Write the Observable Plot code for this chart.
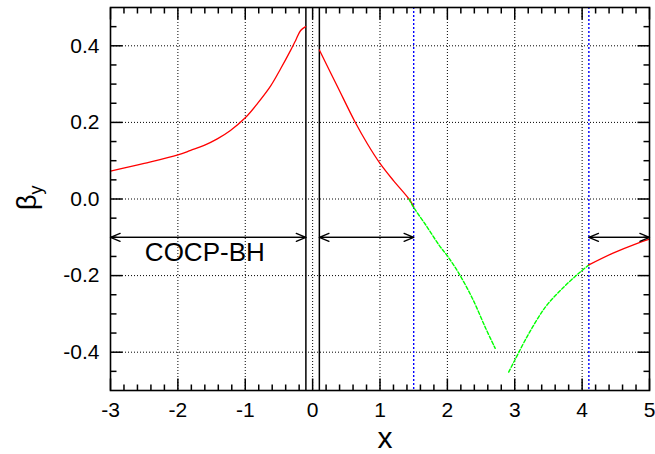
<!DOCTYPE html>
<html><head><meta charset="utf-8">
<script src="https://cdn.jsdelivr.net/npm/d3@7"></script>
<script src="https://cdn.jsdelivr.net/npm/@observablehq/plot@0.6"></script>
<style>body{margin:0;background:#fff;} svg{display:block}</style>
</head><body>
<script>
// ---- data ----
const red1X = [-3.0, -2.5, -2.0, -1.81, -1.61, -1.415, -1.22, -1.0, -0.82, -0.62, -0.475, -0.327, -0.252, -0.178, -0.104];
const red1Y = [0.073, 0.093, 0.115, 0.127, 0.140, 0.157, 0.179, 0.212, 0.249, 0.296, 0.340, 0.388, 0.414, 0.440, 0.450];
const red2X = [0.1, 0.37, 0.63, 0.81, 1.0, 1.2, 1.43, 1.5];
const red2Y = [0.389, 0.293, 0.201, 0.145, 0.093, 0.048, 0.0, -0.02];
const green1X = [1.43, 1.5, 1.68, 1.875, 2.01, 2.17, 2.37, 2.57, 2.71];
const green1Y = [0.0, -0.022, -0.068, -0.12, -0.151, -0.194, -0.259, -0.338, -0.39];
const green2X = [2.91, 3.0, 3.21, 3.46, 3.71, 3.95, 4.1];
const green2Y = [-0.452, -0.421, -0.351, -0.281, -0.233, -0.194, -0.172];
const red3X = [4.1, 4.45, 4.8, 5.0];
const red3Y = [-0.172, -0.142, -0.117, -0.105];

const solidLines = [-0.1, 0.1];        // black vertical lines
const blueLines = [1.5, 4.1];          // blue dotted vertical lines
const arrowFrom = [-3, 0.1, 4.1];
const arrowTo = [-0.1, 1.5, 5];
const arrowLevel = -0.1;
const regionLabel = "COCP-BH";
const regionLabelX = -1.6;
const regionLabelY = -0.14;

const xDomain = [-3, 5];
const yDomain = [-0.5, 0.5];
const xMajor = [-3, -2, -1, 0, 1, 2, 3, 4, 5];
const yMajor = [-0.4, -0.2, 0.0, 0.2, 0.4];
const xGrid = [-2, -1, 0, 1, 2, 3, 4];
const yGrid = [-0.4, -0.2, 0.0, 0.2, 0.4];
const xMinor = d3.range(-30, 51, 2).map(d => d / 10).filter(d => Math.abs(d - Math.round(d)) > 1e-9);
const yMinor = d3.range(-9, 10).map(d => d / 20).filter(d => Math.abs(d * 5 - Math.round(d * 5)) > 1e-9);

const seg = (xs, ys) => xs.map((x, i) => ({x, y: ys[i]}));
const arrows = arrowFrom.map((a, i) => ({a, b: arrowTo[i], y: arrowLevel}));

const font = "Liberation Sans, Arial, Helvetica, sans-serif";
const W = 655, H = 454, mL = 110, mR = 6, mT = 7, mB = 64;
const innerW = W - mL - mR, innerH = H - mT - mB;
// tick lengths (px) expressed in data units
const pxX = (xDomain[1] - xDomain[0]) / innerW;
const pxY = (yDomain[1] - yDomain[0]) / innerH;
const majorLen = 12, minorLen = 6;

function xTicks(values, len) {
  const out = [];
  for (const v of values) {
    out.push({x1: v, x2: v, y1: yDomain[0], y2: yDomain[0] + len * pxY});
    out.push({x1: v, x2: v, y1: yDomain[1], y2: yDomain[1] - len * pxY});
  }
  return out;
}
function yTicks(values, len) {
  const out = [];
  for (const v of values) {
    out.push({y1: v, y2: v, x1: xDomain[0], x2: xDomain[0] + len * pxX});
    out.push({y1: v, y2: v, x1: xDomain[1], x2: xDomain[1] - len * pxX});
  }
  return out;
}
const tickData = [...xTicks(xMajor, majorLen), ...xTicks(xMinor, minorLen), ...yTicks(yMajor, majorLen), ...yTicks(yMinor, minorLen)];

const svg = Plot.plot({
  width: W,
  height: H,
  marginLeft: mL,
  marginRight: mR,
  marginTop: mT,
  marginBottom: mB,
  style: {fontFamily: font, fontSize: "21px", background: "white", color: "black"},
  x: {domain: xDomain, axis: null},
  y: {domain: yDomain, axis: null},
  marks: [
    Plot.ruleX(xGrid, {stroke: "black", strokeWidth: 1, strokeDasharray: "1,2"}),
    Plot.ruleY(yGrid, {stroke: "black", strokeWidth: 1, strokeDasharray: "1,2"}),
    Plot.ruleX(solidLines, {stroke: "black", strokeWidth: 1.5}),
    Plot.ruleX(blueLines, {stroke: "#0000ff", strokeWidth: 1.4, strokeDasharray: "2,2"}),
    Plot.line(seg(red1X, red1Y), {x: "x", y: "y", stroke: "#ff0000", strokeWidth: 1.3, curve: "catmull-rom"}),
    Plot.line(seg(red2X, red2Y), {x: "x", y: "y", stroke: "#ff0000", strokeWidth: 1.3, curve: "catmull-rom"}),
    Plot.line(seg(green1X, green1Y), {x: "x", y: "y", stroke: "#00ff00", strokeWidth: 1.4, strokeDasharray: "3.5,2", curve: "catmull-rom"}),
    Plot.line(seg(green2X, green2Y), {x: "x", y: "y", stroke: "#00ff00", strokeWidth: 1.4, strokeDasharray: "3.5,2", curve: "catmull-rom"}),
    Plot.line(seg(red3X, red3Y), {x: "x", y: "y", stroke: "#ff0000", strokeWidth: 1.3, curve: "catmull-rom"}),
    Plot.arrow(arrows, {x1: "a", x2: "b", y1: "y", y2: "y", stroke: "black", strokeWidth: 1.3, headLength: 12, headAngle: 45}),
    Plot.arrow(arrows, {x1: "b", x2: "a", y1: "y", y2: "y", stroke: "black", strokeWidth: 1.3, headLength: 12, headAngle: 45}),
    Plot.text([regionLabel], {x: regionLabelX, y: regionLabelY, text: d => d, fontSize: 26, fill: "black"}),
    // inward ticks on all four sides
    Plot.link(tickData, {x1: "x1", x2: "x2", y1: "y1", y2: "y2", stroke: "black", strokeWidth: 1.5}),
    Plot.frame({stroke: "black", strokeWidth: 1.6}),
    // tick labels
    Plot.axisX(xMajor, {anchor: "bottom", tickSize: 0, tickPadding: 12, tickFormat: d => String(d), label: null, fontSize: 21}),
    Plot.axisY(yMajor, {anchor: "left", tickSize: 0, tickPadding: 11, tickFormat: d => d.toFixed(1), label: null, fontSize: 21})
  ]
});

const s = d3.select(svg);
s.append("text")
  .attr("x", 385).attr("y", 448)
  .attr("text-anchor", "middle")
  .attr("font-family", font).attr("font-size", 30).attr("fill", "black")
  .text("x");
const yl = s.append("text")
  .attr("transform", "translate(36,210) rotate(-90)")
  .attr("text-anchor", "start")
  .attr("font-family", font).attr("font-size", 27).attr("fill", "black");
yl.append("tspan").text("β");
yl.append("tspan").attr("dy", 6).attr("font-size", 18).text("y");

document.body.appendChild(svg);
</script>
</body></html>
